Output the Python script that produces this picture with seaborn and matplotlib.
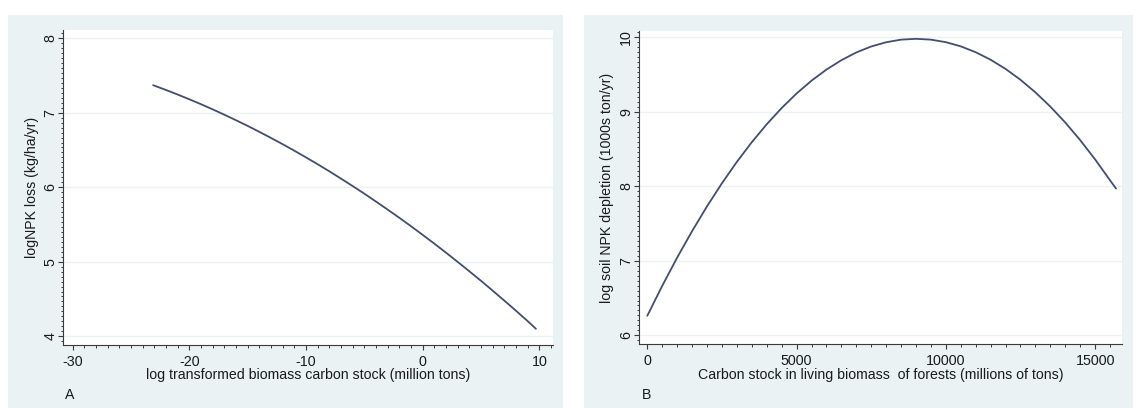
import numpy as np
import pandas as pd
import matplotlib
matplotlib.use("Agg")
import matplotlib.pyplot as plt
from matplotlib.patches import Rectangle
from matplotlib.ticker import MultipleLocator, FixedLocator
import seaborn as sns

# Panel A: fitted NPK loss against log biomass carbon stock
log_carbon = [-23.1, -22, -21, -20, -19, -18, -17, -16, -15, -14, -13, -12, -11, -10,
              -9, -8, -7, -6, -5, -4, -3, -2, -1, 0, 1, 2, 3, 4, 5, 6, 7, 8, 9, 9.7]
log_npk_loss = [7.369, 7.305, 7.244, 7.180, 7.114, 7.045, 6.973, 6.899, 6.823, 6.743,
                6.661, 6.577, 6.490, 6.400, 6.308, 6.213, 6.115, 6.015, 5.913, 5.807,
                5.699, 5.589, 5.476, 5.360, 5.242, 5.121, 4.997, 4.871, 4.743, 4.611,
                4.477, 4.341, 4.202, 4.100]

# Panel B: fitted soil NPK depletion against carbon stock in forest biomass
carbon_stock = [0, 500, 1000, 1500, 2000, 2500, 3000, 3500, 4000, 4500, 5000, 5500,
                6000, 6500, 7000, 7500, 8000, 8500, 9000, 9500, 10000, 10500, 11000,
                11500, 12000, 12500, 13000, 13500, 14000, 14500, 15000, 15500, 15700]
log_npk_depletion = [6.262, 6.664, 7.043, 7.398, 7.731, 8.041, 8.328, 8.592, 8.833,
                     9.051, 9.246, 9.418, 9.567, 9.693, 9.797, 9.877, 9.934, 9.969,
                     9.980, 9.969, 9.935, 9.879, 9.800, 9.699, 9.576, 9.430, 9.261,
                     9.070, 8.856, 8.620, 8.361, 8.080, 7.970]

xticks_a = [-30, -20, -10, 0, 10]
yticks_a = [4, 5, 6, 7, 8]
xticks_b = [0, 5000, 10000, 15000]
yticks_b = [6, 7, 8, 9, 10]

sns.set_theme(style="ticks")
plt.rcParams["font.family"] = ["Liberation Sans", "DejaVu Sans"]

W, H = 1143, 408
PANEL_BG = "#EAF2F3"
LINE_COLOR = "#434d70"
GRID_COLOR = "#EDF2F4"
AXIS_COLOR = "#3a3a3a"
TEXT_COLOR = "#1a1a1a"

fig = plt.figure(figsize=(W / 100, H / 100), dpi=100, facecolor="white")


def box(l, t, r, b):
    return [l / W, 1 - b / H, (r - l) / W, (b - t) / H]


# shaded graph regions behind each panel
for l, r in [(8, 563), (584, 1133)]:
    fig.patches.append(Rectangle((l / W, 0), (r - l) / W, (H - 15) / H,
                                 transform=fig.transFigure, facecolor=PANEL_BG,
                                 edgecolor="none", zorder=-5))

axA = fig.add_axes(box(63.3, 30, 552.7, 345))
axB = fig.add_axes(box(639.3, 31, 1122, 344))

dfA = pd.DataFrame({"x": log_carbon, "y": log_npk_loss})
dfB = pd.DataFrame({"x": carbon_stock, "y": log_npk_depletion})

sns.lineplot(data=dfA, x="x", y="y", ax=axA, color=LINE_COLOR, lw=1.3,
             sort=False, estimator=None)
sns.lineplot(data=dfB, x="x", y="y", ax=axB, color=LINE_COLOR, lw=1.3,
             sort=False, estimator=None)


def style_axis(ax, xlim, ylim, xt, yt, xminor, yminor, xlabel, ylabel):
    ax.set_facecolor("white")
    ax.set_xlim(*xlim)
    ax.set_ylim(*ylim)
    ax.xaxis.set_major_locator(FixedLocator(xt))
    ax.yaxis.set_major_locator(FixedLocator(yt))
    ax.xaxis.set_minor_locator(MultipleLocator(xminor))
    ax.yaxis.set_minor_locator(MultipleLocator(yminor))
    ax.set_xticklabels([str(v) for v in xt])
    ax.set_yticklabels([str(v) for v in yt], rotation=90, va="center")
    for s in ["top", "right"]:
        ax.spines[s].set_visible(False)
    for s in ["left", "bottom"]:
        ax.spines[s].set_color(AXIS_COLOR)
        ax.spines[s].set_linewidth(0.8)
    ax.tick_params(which="major", length=3.4, width=0.8, color=AXIS_COLOR,
                   labelsize=10.3, labelcolor=TEXT_COLOR)
    ax.tick_params(axis="x", which="major", pad=3.5)
    ax.tick_params(axis="y", which="major", pad=1)
    ax.tick_params(which="minor", length=1.8, width=0.7, color=AXIS_COLOR)
    for v in yt:
        ax.axhline(v, color=GRID_COLOR, lw=1.0, zorder=0)
    ax.set_xlabel(xlabel, fontsize=10.2, color=TEXT_COLOR)
    ax.set_ylabel(ylabel, fontsize=10.2, color=TEXT_COLOR)
    ax.xaxis.label.set_va("center")
    ax.yaxis.label.set_va("center")


style_axis(axA, (-30.8, 11.14), (3.882, 8.11), xticks_a, yticks_a, 1, 1 / 15,
           "log transformed biomass carbon stock (million tons)",
           "logNPK loss (kg/ha/yr)")
style_axis(axB, (-268, 15900), (5.883, 10.085), xticks_b, yticks_b, 500, 1 / 15,
           "Carbon stock in living biomass  of forests (millions of tons)",
           "log soil NPK depletion (1000s ton/yr)")

axA.xaxis.set_label_coords(0.5, (345 - 375) / 315)
axA.yaxis.set_label_coords((32 - 63.3) / 489.4, 0.5)
axB.xaxis.set_label_coords(0.5, (344 - 375) / 313)
axB.yaxis.set_label_coords((607.4 - 639.3) / 482.7, 0.5)

fig.text(65 / W, 1 - 395 / H, "A", fontsize=10.2, color=TEXT_COLOR, va="center")
fig.text(642 / W, 1 - 395 / H, "B", fontsize=10.2, color=TEXT_COLOR, va="center")

fig.savefig("out.png", dpi=100, facecolor="white")
